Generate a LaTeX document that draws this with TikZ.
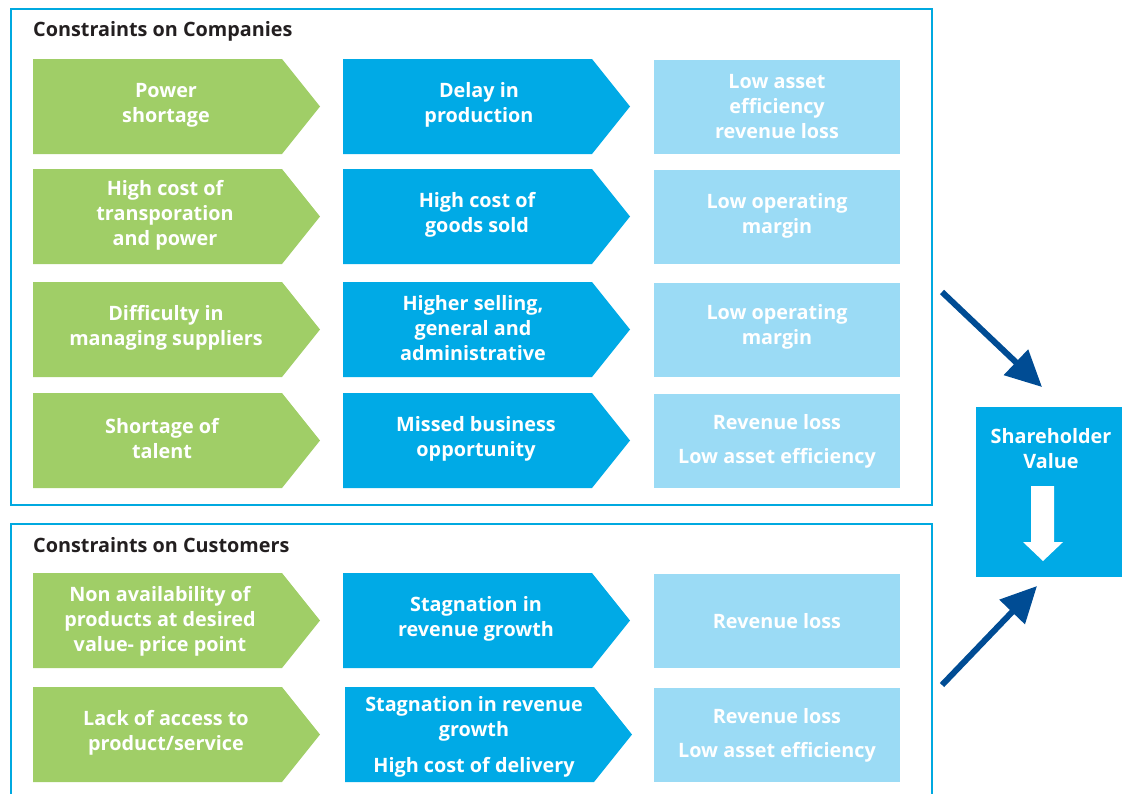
\documentclass[tikz,border=0pt]{standalone}
\usepackage{fontspec}
\setmainfont{Open Sans}
\usetikzlibrary{arrows.meta}
\definecolor{cgreen}{HTML}{A0CE67}
\definecolor{cblue}{HTML}{00AAE6}
\definecolor{clight}{HTML}{9BDBF5}
\definecolor{cframe}{HTML}{00A9E0}
\definecolor{cdark}{HTML}{004C94}
\definecolor{ctitle}{HTML}{231F20}
\tikzset{
  lbl/.style={text=white, font=\bfseries\fontsize{19.8}{25}\selectfont, align=center, inner sep=0pt},
  ttl/.style={text=ctitle, font=\bfseries\fontsize{19.8}{23}\selectfont, anchor=base west, inner sep=0pt},
  frame/.style={draw=cframe, line width=2pt},
  bigarrow/.style={draw=cdark, line width=6pt, -{Triangle[length=36pt,width=34pt]}},
}
\newcommand\chevron[7]{%
  \fill[#4] (#2,#3) -- ++(249,0) -- ++(38,47.5) -- ++(-38,47.5) -- ++(-249,0) -- cycle;
  \node[lbl] (#1) at (#2+#6,#3+#7) {#5};}
\newcommand\lightbox[4]{%
  \fill[clight] (654,#2+1) rectangle (900,#2+95);
  \node[lbl] (#1) at (777,#2+#4) {#3};}
\begin{document}
\begin{tikzpicture}[x=1pt,y=-1pt]
\useasboundingbox (0,0) rectangle (1129,793);
% frames
\draw[frame] (11,9) rectangle (932,505);
\draw[frame] (11,800) -- (11,524) -- (932,524) -- (932,800);
\node[ttl] (t1) at (33,36) {Constraints on Companies};
\node[ttl] (t2) at (33,552) {Constraints on Customers};
% row 1
\chevron{g1}{33}{59}{cgreen}{Power\\shortage}{133}{46}
\chevron{b1}{343}{59}{cblue}{Delay in\\production}{136}{46}
\lightbox{l1}{59}{Low asset\\efficiency\\revenue loss}{48}
% row 2
\chevron{g2}{33}{169}{cgreen}{High cost of\\transporation\\and power}{132}{46}
\chevron{b2}{343}{169}{cblue}{High cost of\\goods sold}{134}{46}
\lightbox{l2}{169}{Low operating\\margin}{47}
% row 3
\chevron{g3}{33}{282}{cgreen}{Difficulty in\\managing suppliers}{133}{46}
\chevron{b3}{343}{282}{cblue}{Higher selling,\\general and\\administrative}{130}{46}
\lightbox{l3}{282}{Low operating\\margin}{45}
% row 4
\chevron{g4}{33}{393}{cgreen}{Shortage of\\talent}{129}{46}
\chevron{b4}{343}{393}{cblue}{Missed business\\opportunity}{133}{46}
\lightbox{l4}{393}{Revenue loss\\[9pt]Low asset efficiency}{48}
% row 5
\chevron{g5}{33}{573}{cgreen}{Non availability of\\products at desired\\value- price point}{127}{48}
\chevron{b5}{343}{573}{cblue}{Stagnation in\\revenue growth}{133}{46}
\lightbox{l5}{573}{Revenue loss}{48}
% row 6
\chevron{g6}{33}{687}{cgreen}{Lack of access to\\product/service}{133}{46}
\chevron{b6}{345}{687}{cblue}{Stagnation in revenue\\growth\\[11pt]High cost of delivery}{129}{50}
\lightbox{l6}{687}{Revenue loss\\[9pt]Low asset efficiency}{48}
% shareholder box
\fill[cblue] (976,407) rectangle (1122,577);
\node[lbl] (sv) at (1051,449) {Shareholder\\Value};
\fill[white] (1031,486) -- (1054,486) -- (1054,542) -- (1063,542) -- (1043,561) -- (1023,542) -- (1031,542) -- cycle;
% arrows
\coordinate (a1s) at (942,292);
\coordinate (a1e) at (1042,387);
\coordinate (a2s) at (942,685);
\coordinate (a2e) at (1037,586);
\draw[bigarrow] (a1s) -- (a1e);
\draw[bigarrow] (a2s) -- (a2e);
\end{tikzpicture}
\end{document}
